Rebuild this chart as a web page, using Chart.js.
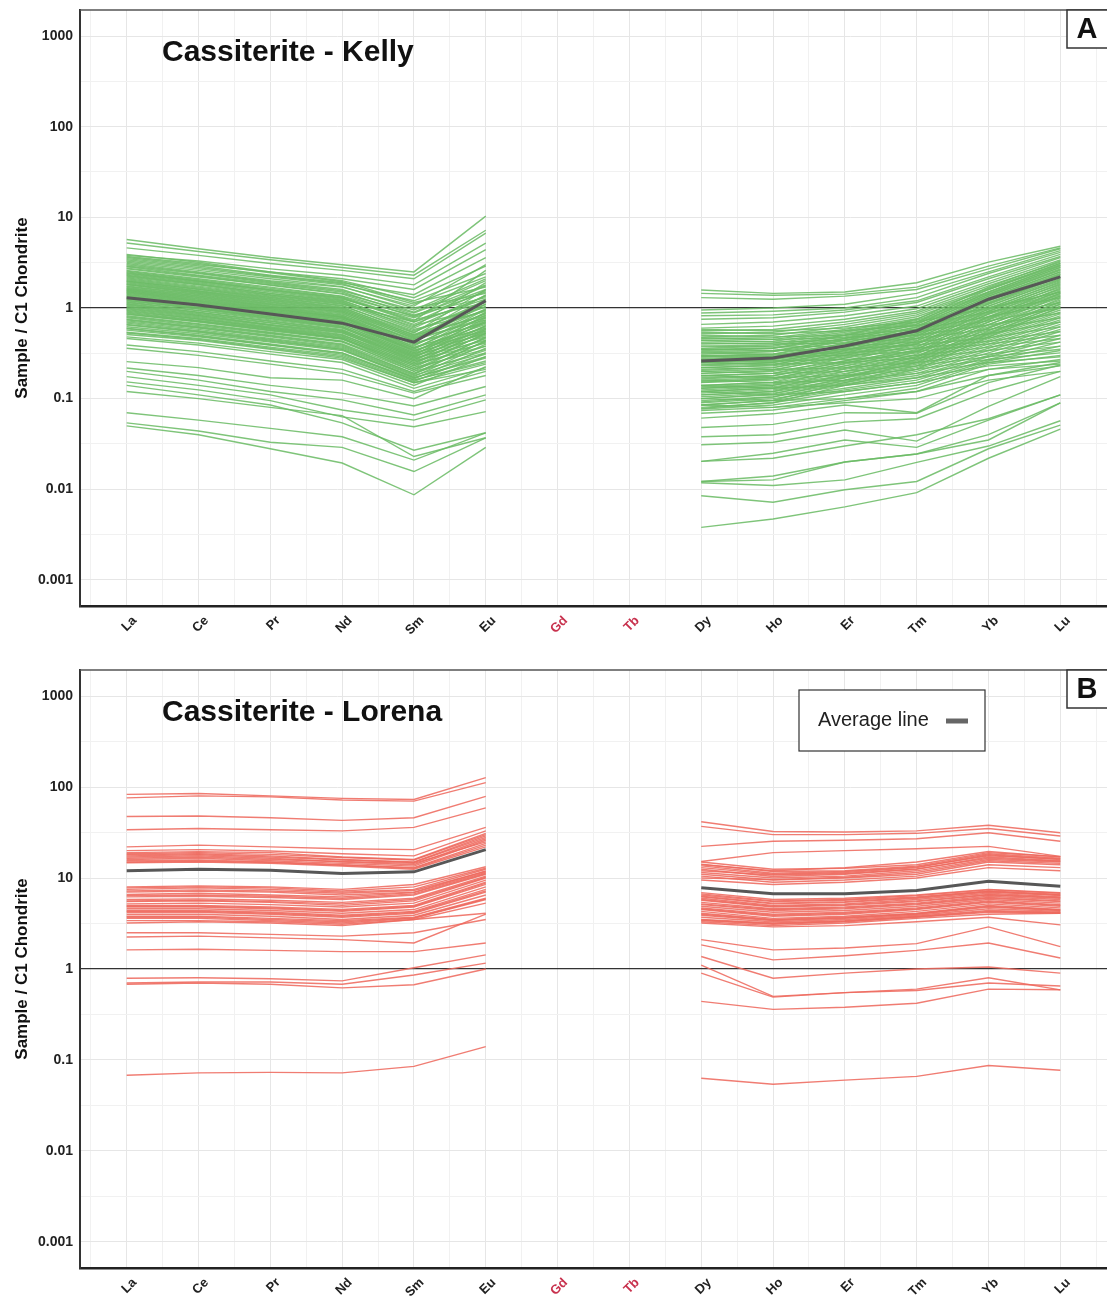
<!DOCTYPE html>
<html>
<head>
<meta charset="utf-8">
<script src="https://cdn.jsdelivr.net/npm/chart.js@4.4.1/dist/chart.umd.min.js"></script>
<style>
  html, body { margin: 0; padding: 0; background: #fff; }
  canvas { display: block; }
</style>
</head>
<body>
<canvas id="kelly-chart" width="1107" height="655"></canvas>
<canvas id="lorena-chart" width="1107" height="644"></canvas>
<script>
// REE order on the x axis (Gd, Tb not analysed -> gap, red labels)
const elements = ['La', 'Ce', 'Pr', 'Nd', 'Sm', 'Eu', 'Gd', 'Tb', 'Dy', 'Ho', 'Er', 'Tm', 'Yb', 'Lu'];
const missingElements = ['Gd', 'Tb'];
const yTickValues = [0.001, 0.01, 0.1, 1, 10, 100, 1000];
const yTickLabels = ['0.001', '0.01', '0.1', '1', '10', '100', '1000'];

// each row: La, Ce, Pr, Nd, Sm, Eu, Dy, Ho, Er, Tm, Yb, Lu (sample / C1 chondrite)
const kellyAverage = [1.3, 1.08, 0.86, 0.68, 0.42, 1.2, 0.26, 0.28, 0.38, 0.56, 1.25, 2.2];
const kellySamples = [
    [5.7, 4.5, 3.6, 3.0, 2.5, 10.3, 1.58, 1.45, 1.5, 1.9, 3.2, 4.8],
    [5.2, 4.2, 3.4, 2.8, 2.3, 7.2, 1.45, 1.38, 1.42, 1.7, 2.9, 4.6],
    [4.6, 3.8, 3.1, 2.6, 2.1, 6.7, 1.3, 1.25, 1.35, 1.6, 2.7, 4.5],
    [3.9, 3.2, 2.5, 2.0, 1.3, 2.9, 0.34, 0.36, 0.5, 0.75, 1.7, 3.3],
    [3.8, 3.3, 2.7, 2.3, 1.8, 5.2, 0.95, 1.0, 1.1, 1.45, 2.5, 4.3],
    [3.7, 3.1, 2.45, 1.95, 1.15, 1.7, 0.31, 0.33, 0.46, 0.7, 1.6, 3.1],
    [3.6, 3.0, 2.5, 2.1, 1.6, 4.4, 0.88, 0.92, 1.0, 1.3, 2.4, 4.1],
    [3.5, 2.9, 2.3, 1.9, 1.4, 3.6, 0.82, 0.84, 0.95, 1.2, 2.2, 3.9],
    [3.4, 2.8, 2.25, 1.85, 1.1, 2.2, 0.29, 0.31, 0.44, 0.66, 1.5, 2.95],
    [3.3, 2.7, 2.2, 1.8, 1.2, 2.4, 0.75, 0.78, 0.9, 1.15, 2.1, 3.7],
    [3.2, 2.6, 2.1, 1.72, 1.0, 1.45, 0.27, 0.29, 0.41, 0.62, 1.42, 2.8],
    [3.1, 2.5, 2.0, 1.7, 1.05, 3.0, 0.66, 0.7, 0.82, 1.05, 1.95, 3.6],
    [3.0, 2.45, 1.95, 1.6, 0.9, 2.0, 0.25, 0.27, 0.39, 0.58, 1.35, 2.65],
    [2.9, 2.4, 1.9, 1.55, 0.95, 2.1, 0.6, 0.63, 0.75, 0.98, 1.85, 3.4],
    [2.85, 2.3, 1.85, 1.5, 0.84, 1.3, 0.235, 0.25, 0.36, 0.55, 1.28, 2.5],
    [2.75, 2.25, 1.78, 1.42, 0.8, 1.75, 0.22, 0.235, 0.34, 0.52, 1.2, 2.35],
    [2.7, 2.2, 1.8, 1.45, 0.88, 1.8, 0.56, 0.58, 0.7, 0.92, 1.75, 3.2],
    [2.6, 2.1, 1.7, 1.35, 0.82, 1.6, 0.52, 0.54, 0.66, 0.88, 1.65, 3.1],
    [2.55, 2.05, 1.65, 1.33, 0.74, 1.15, 0.205, 0.22, 0.32, 0.49, 1.12, 2.2],
    [2.5, 2.0, 1.6, 1.3, 0.72, 2.6, 0.48, 0.5, 0.62, 0.84, 1.6, 3.0],
    [2.45, 1.98, 1.58, 1.28, 0.7, 1.55, 0.19, 0.205, 0.3, 0.46, 1.05, 2.05],
    [2.4, 1.95, 1.55, 1.25, 0.78, 1.5, 0.46, 0.47, 0.58, 0.8, 1.5, 2.9],
    [2.35, 1.9, 1.5, 1.22, 0.64, 1.02, 0.178, 0.19, 0.28, 0.43, 0.98, 1.95],
    [2.3, 1.85, 1.45, 1.2, 0.66, 1.35, 0.44, 0.45, 0.56, 0.76, 1.45, 2.8],
    [2.25, 1.82, 1.44, 1.17, 0.6, 1.38, 0.165, 0.178, 0.26, 0.4, 0.92, 1.85],
    [2.2, 1.8, 1.4, 1.15, 0.62, 1.9, 0.42, 0.43, 0.54, 0.73, 1.4, 2.7],
    [2.15, 1.74, 1.38, 1.12, 0.58, 0.92, 0.152, 0.165, 0.245, 0.37, 0.86, 1.75],
    [2.1, 1.7, 1.35, 1.1, 0.7, 1.25, 0.4, 0.41, 0.52, 0.7, 1.35, 2.6],
    [2.05, 1.66, 1.32, 1.07, 0.54, 1.2, 0.14, 0.152, 0.23, 0.35, 0.8, 1.65],
    [2.0, 1.62, 1.3, 1.05, 0.56, 1.1, 0.38, 0.39, 0.5, 0.67, 1.3, 2.5],
    [1.98, 1.6, 1.27, 1.02, 0.5, 0.82, 0.13, 0.14, 0.215, 0.33, 0.75, 1.55],
    [1.95, 1.55, 1.25, 1.0, 0.53, 1.6, 0.36, 0.38, 0.48, 0.64, 1.25, 2.4],
    [1.9, 1.53, 1.22, 0.98, 0.48, 1.05, 0.12, 0.13, 0.2, 0.31, 0.7, 1.45],
    [1.85, 1.5, 1.2, 0.96, 0.51, 0.95, 0.35, 0.36, 0.46, 0.61, 1.2, 2.3],
    [1.82, 1.47, 1.17, 0.94, 0.46, 0.74, 0.11, 0.12, 0.185, 0.29, 0.65, 1.36],
    [1.8, 1.45, 1.15, 0.93, 0.49, 1.4, 0.33, 0.34, 0.44, 0.59, 1.15, 2.2],
    [1.75, 1.42, 1.12, 0.91, 0.43, 0.98, 0.1, 0.112, 0.17, 0.27, 0.6, 1.27],
    [1.72, 1.4, 1.1, 0.9, 0.47, 0.86, 0.32, 0.33, 0.42, 0.56, 1.1, 2.1],
    [1.68, 1.37, 1.08, 0.88, 0.41, 0.68, 0.092, 0.104, 0.16, 0.25, 0.56, 1.18],
    [1.65, 1.35, 1.05, 0.86, 0.45, 1.25, 0.3, 0.31, 0.4, 0.54, 1.05, 2.0],
    [1.62, 1.32, 1.04, 0.84, 0.39, 0.88, 0.085, 0.096, 0.15, 0.23, 0.52, 1.1],
    [1.6, 1.3, 1.02, 0.83, 0.44, 0.78, 0.29, 0.3, 0.38, 0.52, 1.0, 1.9],
    [1.57, 1.27, 1.0, 0.81, 0.37, 0.6, 0.078, 0.09, 0.14, 0.21, 0.48, 1.02],
    [1.55, 1.25, 0.98, 0.8, 0.42, 1.1, 0.28, 0.29, 0.37, 0.5, 0.96, 1.8],
    [1.52, 1.22, 0.97, 0.79, 0.36, 0.8, 0.58, 0.56, 0.6, 0.7, 1.0, 1.5],
    [1.5, 1.2, 0.95, 0.78, 0.4, 0.7, 0.27, 0.28, 0.35, 0.48, 0.92, 1.7],
    [1.47, 1.18, 0.94, 0.76, 0.34, 0.56, 0.54, 0.52, 0.56, 0.64, 0.9, 1.3],
    [1.45, 1.16, 0.92, 0.75, 0.38, 0.96, 0.26, 0.27, 0.34, 0.46, 0.88, 1.6],
    [1.42, 1.14, 0.91, 0.73, 0.33, 0.74, 0.5, 0.48, 0.5, 0.58, 0.8, 1.15],
    [1.4, 1.12, 0.9, 0.72, 0.36, 0.66, 0.25, 0.26, 0.33, 0.44, 0.85, 1.5],
    [1.37, 1.1, 0.88, 0.71, 0.32, 0.52, 0.47, 0.45, 0.47, 0.54, 0.72, 1.0],
    [1.35, 1.08, 0.86, 0.7, 0.35, 0.9, 0.24, 0.25, 0.32, 0.42, 0.8, 1.45],
    [1.32, 1.06, 0.85, 0.69, 0.31, 0.69, 0.44, 0.42, 0.44, 0.5, 0.65, 0.88],
    [1.3, 1.05, 0.84, 0.68, 0.34, 0.62, 0.23, 0.24, 0.31, 0.41, 0.77, 1.4],
    [1.27, 1.02, 0.82, 0.66, 0.3, 0.48, 0.41, 0.4, 0.41, 0.46, 0.58, 0.78],
    [1.25, 1.0, 0.8, 0.65, 0.32, 0.84, 0.22, 0.23, 0.3, 0.4, 0.74, 1.35],
    [1.22, 0.98, 0.79, 0.63, 0.29, 0.64, 0.38, 0.37, 0.38, 0.42, 0.52, 0.7],
    [1.2, 0.97, 0.77, 0.62, 0.31, 0.58, 0.21, 0.22, 0.29, 0.38, 0.7, 1.3],
    [1.17, 0.94, 0.76, 0.61, 0.28, 0.44, 0.35, 0.34, 0.35, 0.39, 0.47, 0.62],
    [1.15, 0.93, 0.74, 0.6, 0.3, 0.78, 0.2, 0.21, 0.28, 0.36, 0.66, 1.22],
    [1.12, 0.9, 0.72, 0.58, 0.27, 0.6, 0.32, 0.31, 0.32, 0.36, 0.43, 0.55],
    [1.1, 0.89, 0.71, 0.57, 0.29, 0.54, 0.19, 0.2, 0.26, 0.34, 0.62, 1.15],
    [1.08, 0.87, 0.69, 0.56, 0.26, 0.41, 0.3, 0.29, 0.3, 0.33, 0.4, 0.5],
    [1.05, 0.85, 0.68, 0.55, 0.28, 0.72, 0.18, 0.19, 0.25, 0.33, 0.6, 1.1],
    [1.03, 0.83, 0.66, 0.54, 0.25, 0.56, 0.27, 0.26, 0.27, 0.3, 0.37, 0.46],
    [1.0, 0.82, 0.65, 0.53, 0.27, 0.5, 0.17, 0.18, 0.24, 0.32, 0.57, 1.05],
    [0.98, 0.8, 0.64, 0.51, 0.24, 0.38, 0.25, 0.24, 0.25, 0.28, 0.34, 0.42],
    [0.96, 0.78, 0.62, 0.5, 0.26, 0.64, 0.16, 0.17, 0.23, 0.3, 0.54, 1.0],
    [0.94, 0.76, 0.61, 0.49, 0.23, 0.52, 0.22, 0.21, 0.22, 0.25, 0.31, 0.38],
    [0.92, 0.75, 0.6, 0.48, 0.25, 0.46, 0.155, 0.165, 0.22, 0.29, 0.52, 0.95],
    [0.9, 0.73, 0.59, 0.47, 0.22, 0.35, 0.2, 0.19, 0.2, 0.23, 0.29, 0.35],
    [0.88, 0.72, 0.58, 0.46, 0.24, 0.58, 0.15, 0.16, 0.21, 0.28, 0.5, 0.9],
    [0.86, 0.71, 0.57, 0.46, 0.21, 0.47, 0.18, 0.17, 0.18, 0.21, 0.27, 0.32],
    [0.85, 0.7, 0.56, 0.45, 0.23, 0.42, 0.14, 0.15, 0.2, 0.27, 0.48, 0.86],
    [0.82, 0.67, 0.54, 0.43, 0.22, 0.53, 0.135, 0.145, 0.19, 0.26, 0.46, 0.82],
    [0.8, 0.66, 0.53, 0.43, 0.2, 0.32, 0.16, 0.15, 0.16, 0.19, 0.25, 0.29],
    [0.78, 0.64, 0.52, 0.42, 0.21, 0.38, 0.13, 0.14, 0.18, 0.25, 0.44, 0.78],
    [0.75, 0.62, 0.5, 0.4, 0.2, 0.48, 0.125, 0.135, 0.175, 0.24, 0.42, 0.74],
    [0.74, 0.61, 0.49, 0.39, 0.19, 0.43, 0.14, 0.13, 0.14, 0.17, 0.23, 0.26],
    [0.72, 0.6, 0.48, 0.38, 0.19, 0.34, 0.12, 0.13, 0.17, 0.23, 0.4, 0.7],
    [0.7, 0.58, 0.46, 0.37, 0.185, 0.44, 0.115, 0.125, 0.16, 0.22, 0.38, 0.66],
    [0.68, 0.56, 0.45, 0.36, 0.18, 0.31, 0.11, 0.12, 0.155, 0.21, 0.36, 0.62],
    [0.66, 0.55, 0.44, 0.35, 0.17, 0.29, 0.12, 0.11, 0.12, 0.15, 0.21, 0.24],
    [0.65, 0.54, 0.43, 0.35, 0.175, 0.4, 0.105, 0.115, 0.15, 0.2, 0.34, 0.58],
    [0.62, 0.52, 0.42, 0.34, 0.17, 0.28, 0.1, 0.11, 0.145, 0.19, 0.32, 0.55],
    [0.6, 0.5, 0.4, 0.32, 0.165, 0.36, 0.095, 0.105, 0.14, 0.18, 0.3, 0.5],
    [0.59, 0.49, 0.39, 0.32, 0.16, 0.25, 0.1, 0.095, 0.1, 0.12, 0.18, 0.23],
    [0.57, 0.48, 0.39, 0.31, 0.16, 0.26, 0.09, 0.1, 0.13, 0.17, 0.29, 0.46],
    [0.54, 0.46, 0.37, 0.3, 0.155, 0.32, 0.085, 0.095, 0.125, 0.16, 0.27, 0.42],
    [0.53, 0.45, 0.36, 0.29, 0.15, 0.21, 0.085, 0.08, 0.09, 0.1, 0.16, 0.2],
    [0.51, 0.44, 0.35, 0.28, 0.15, 0.24, 0.08, 0.09, 0.12, 0.15, 0.26, 0.38],
    [0.48, 0.41, 0.33, 0.27, 0.14, 0.29, 0.077, 0.085, 0.11, 0.14, 0.25, 0.34],
    [0.46, 0.39, 0.31, 0.25, 0.13, 0.22, 0.074, 0.08, 0.1, 0.13, 0.24, 0.3],
    [0.39, 0.33, 0.26, 0.21, 0.12, 0.2, 0.069, 0.075, 0.095, 0.12, 0.21, 0.27],
    [0.36, 0.3, 0.24, 0.19, 0.115, 0.18, 0.061, 0.068, 0.085, 0.07, 0.18, 0.25],
    [0.256, 0.22, 0.17, 0.16, 0.1, 0.226, 0.048, 0.052, 0.07, 0.069, 0.15, 0.235],
    [0.218, 0.18, 0.14, 0.115, 0.083, 0.136, 0.038, 0.04, 0.055, 0.06, 0.12, 0.2],
    [0.2, 0.16, 0.12, 0.097, 0.066, 0.11, 0.031, 0.033, 0.045, 0.034, 0.082, 0.175],
    [0.175, 0.14, 0.11, 0.075, 0.058, 0.097, 0.0203, 0.025, 0.035, 0.029, 0.058, 0.11],
    [0.153, 0.125, 0.095, 0.063, 0.049, 0.072, 0.0122, 0.0127, 0.02, 0.0245, 0.035, 0.09],
    [0.14, 0.11, 0.085, 0.054, 0.027, 0.042, 0.0118, 0.011, 0.0127, 0.0198, 0.03, 0.057],
    [0.12, 0.1, 0.08, 0.065, 0.023, 0.037, 0.0085, 0.0072, 0.0099, 0.0122, 0.028, 0.051],
    [0.07, 0.058, 0.047, 0.038, 0.021, 0.042, 0.0038, 0.0047, 0.0064, 0.0092, 0.022, 0.046],
    [0.054, 0.044, 0.033, 0.029, 0.0157, 0.037, 0.0122, 0.014, 0.02, 0.0245, 0.04, 0.09],
    [0.05, 0.04, 0.028, 0.0195, 0.0087, 0.029, 0.0203, 0.022, 0.03, 0.04, 0.06, 0.11]
];

const lorenaAverage = [12, 12.5, 12.2, 11.2, 11.7, 20.5, 7.8, 6.7, 6.7, 7.3, 9.2, 8.1];
const lorenaSamples = [
    [83, 85, 80, 75, 73, 127, 41.6, 32.5, 32, 33, 38, 31.5],
    [76, 80, 78, 72, 70, 112, 37, 30, 30, 31, 35, 29],
    [47.5, 48, 46, 43, 46, 79, 22.3, 25.4, 26, 27, 31.5, 25.4],
    [34, 35, 34, 33, 36, 59, 15.2, 19, 20, 21, 22.3, 17.3],
    [22, 23, 22, 21, 20.5, 36, 14, 12, 13, 15, 19.6, 17],
    [20, 20.5, 19.8, 18.5, 17.5, 33, 15, 12.5, 12.8, 14, 19, 17.2],
    [19, 19.5, 19, 17, 16, 31, 13, 11, 11.5, 13, 18, 16],
    [18.5, 19, 18.2, 16.8, 15.8, 30, 14.2, 11.8, 12, 13.5, 18.5, 16.5],
    [18, 18.5, 17.5, 16, 15, 29, 12.5, 10.4, 11, 12.5, 17, 15.5],
    [17.5, 18, 17, 15.8, 14.8, 28, 13.6, 11.3, 11.8, 13.2, 17.6, 16.2],
    [17, 17.5, 16.5, 15, 14, 27, 11.5, 10, 10.5, 12, 16, 15],
    [16.5, 17, 16, 15.2, 14.5, 25, 12, 10.8, 11.2, 12.6, 16.5, 15.3],
    [16, 16.5, 15.5, 14.5, 13.5, 26, 11, 9.5, 10, 11, 15, 14],
    [15.5, 15.8, 15, 14, 13, 24, 10.5, 9, 9.5, 10.5, 14, 13],
    [15, 15.3, 14.8, 13.8, 12.8, 23, 10, 9.6, 10.2, 11.5, 15.5, 14.5],
    [14.7, 15, 14.5, 13.5, 12.5, 22, 9.5, 8.5, 9, 10, 13, 12],
    [8, 8.2, 8, 7.5, 8.5, 13.3, 6.9, 5.8, 6, 6.5, 7.5, 6.9],
    [7.8, 8, 7.8, 7.2, 8, 12.8, 6.7, 5.6, 5.8, 6.4, 7.4, 6.8],
    [7.5, 7.8, 7.5, 7, 7.5, 12.5, 6.5, 5.5, 5.7, 6.2, 7.2, 6.6],
    [7.2, 7.4, 7.2, 6.8, 7.3, 11.8, 6.3, 5.3, 5.5, 6.1, 7.1, 6.5],
    [7, 7.2, 7, 6.5, 7, 12, 6.2, 5.2, 5.4, 6, 7, 6.4],
    [6.6, 6.8, 6.5, 6.2, 6.9, 11.5, 6, 5, 5.2, 5.8, 6.8, 6.2],
    [6.4, 6.5, 6.3, 6, 6.7, 11.2, 5.8, 4.9, 5.1, 5.6, 6.6, 6.1],
    [6.2, 6.3, 6.1, 5.8, 6.5, 11, 5.7, 4.8, 5, 5.5, 6.5, 6],
    [5.8, 5.9, 5.7, 5.4, 6, 10.5, 5.4, 4.6, 4.8, 5.3, 6.3, 5.8],
    [5.6, 5.7, 5.5, 5.2, 5.8, 10.2, 5.2, 4.5, 4.7, 5.2, 6.1, 5.6],
    [5.5, 5.6, 5.4, 5, 5.6, 10, 5.1, 4.4, 4.6, 5.1, 6, 5.5],
    [5.2, 5.3, 5.1, 4.8, 5.3, 9.5, 4.9, 4.2, 4.4, 4.9, 5.8, 5.3],
    [5, 5, 4.8, 4.5, 5, 9, 4.7, 4, 4.2, 4.7, 5.6, 5.1],
    [4.9, 4.9, 4.7, 4.4, 4.9, 8.8, 4.6, 3.9, 4.1, 4.6, 5.5, 5],
    [4.8, 4.8, 4.6, 4.3, 4.8, 8.5, 4.5, 3.8, 4, 4.5, 5.4, 4.9],
    [4.6, 4.6, 4.4, 4.1, 4.5, 8, 4.3, 3.6, 3.8, 4.3, 5.2, 4.7],
    [4.4, 4.4, 4.2, 3.9, 4.3, 7.5, 4.1, 3.5, 3.7, 4.1, 5, 4.5],
    [4.3, 4.3, 4.1, 3.8, 4.2, 7.2, 4, 3.45, 3.65, 4.05, 4.9, 4.45],
    [4.2, 4.2, 4, 3.7, 4.1, 7, 3.9, 3.4, 3.6, 4, 4.8, 4.4],
    [4, 4, 3.8, 3.5, 3.9, 6.5, 3.7, 3.3, 3.5, 3.9, 4.6, 4.3],
    [3.8, 3.8, 3.6, 3.4, 3.7, 6, 3.5, 3.2, 3.4, 3.8, 4.4, 4.2],
    [3.7, 3.7, 3.5, 3.3, 3.65, 5.9, 3.45, 3.15, 3.35, 3.75, 4.3, 4.15],
    [3.6, 3.6, 3.4, 3.2, 3.6, 5.8, 3.4, 3.1, 3.3, 3.7, 4.2, 4.1],
    [3.4, 3.4, 3.3, 3.1, 3.5, 5.3, 3.3, 3, 3.2, 3.6, 4, 4.1],
    [3.2, 3.3, 3.2, 3, 3.5, 4.1, 3.2, 2.9, 3, 3.3, 3.7, 3.05],
    [2.5, 2.5, 2.4, 2.3, 2.5, 3.5, 2.1, 1.62, 1.7, 1.9, 2.9, 1.76],
    [2.25, 2.3, 2.2, 2.1, 1.93, 4.0, 1.84, 1.26, 1.4, 1.6, 1.93, 1.32],
    [1.62, 1.65, 1.6, 1.55, 1.55, 1.93, 1.37, 0.79, 0.9, 1.0, 1.05, 0.9],
    [0.79, 0.8, 0.78, 0.74, 1.03, 1.43, 1.1, 0.5, 0.55, 0.6, 0.8, 0.59],
    [0.7, 0.72, 0.72, 0.68, 0.86, 1.16, 0.9, 0.49, 0.55, 0.58, 0.7, 0.65],
    [0.68, 0.7, 0.68, 0.62, 0.67, 1.0, 0.44, 0.36, 0.38, 0.42, 0.6, 0.59],
    [0.068, 0.072, 0.073, 0.072, 0.085, 0.14, 0.063, 0.054, 0.06, 0.066, 0.087, 0.077]
];

// Gd and Tb were not measured: insert a gap between Eu and Dy
function toSeries(row) {
    return elements.map((el, i) => {
        if (i < 6) return { x: i, y: row[i] };
        if (i < 8) return { x: i, y: null };
        return { x: i, y: row[i - 2] };
    });
}

// frame top line, panel title, panel letter and the little legend
const panelDecor = {
    id: 'panelDecor',
    afterDraw(chart, args, opts) {
        const ctx = chart.ctx;
        const area = chart.chartArea;
        ctx.save();
        ctx.strokeStyle = '#555';
        ctx.lineWidth = 1.5;
        ctx.beginPath();
        ctx.moveTo(area.left, area.top);
        ctx.lineTo(area.right, area.top);
        ctx.stroke();

        ctx.fillStyle = '#111';
        ctx.textBaseline = 'middle';
        ctx.textAlign = 'left';
        ctx.font = 'bold 30px "Liberation Sans", Arial, sans-serif';
        ctx.fillText(opts.title, area.left + 82, area.top + 43);

        // letter box in the top right corner
        ctx.fillStyle = '#fff';
        ctx.fillRect(area.right - 40, area.top, 40, 38);
        ctx.strokeStyle = '#333';
        ctx.lineWidth = 1.5;
        ctx.strokeRect(area.right - 40, area.top, 42, 38);
        ctx.fillStyle = '#111';
        ctx.textAlign = 'center';
        ctx.font = 'bold 29px "Liberation Sans", Arial, sans-serif';
        ctx.fillText(opts.letter, area.right - 20, area.top + 20);

        if (opts.legend) {
            const bx = 799, by = area.top + 20;
            ctx.fillStyle = '#fff';
            ctx.fillRect(bx, by, 186, 61);
            ctx.strokeStyle = '#333';
            ctx.lineWidth = 1.2;
            ctx.strokeRect(bx, by, 186, 61);
            ctx.fillStyle = '#222';
            ctx.textAlign = 'left';
            ctx.font = '20px "Liberation Sans", Arial, sans-serif';
            ctx.fillText('Average line', bx + 19, by + 30);
            ctx.strokeStyle = '#666';
            ctx.lineWidth = 5;
            ctx.beginPath();
            ctx.moveTo(bx + 147, by + 31);
            ctx.lineTo(bx + 169, by + 31);
            ctx.stroke();
        }
        ctx.restore();
    }
};

// drop the extra space Chart.js keeps for edge tick labels
function noEdgePadding(scale) {
    scale.paddingTop = 0;
    scale.paddingBottom = 0;
    scale.paddingLeft = 0;
    scale.paddingRight = 0;
}

function buildChart(canvasId, samples, average, lineColor, opts) {
    const datasets = [{
        label: 'Average line',
        data: toSeries(average),
        borderColor: '#575757',
        borderWidth: 3,
        pointRadius: 0,
        spanGaps: false
    }];
    samples.forEach((row, n) => {
        datasets.push({
            label: 'Sample ' + (n + 1),
            data: toSeries(row),
            borderColor: lineColor,
            borderWidth: 1.4,
            pointRadius: 0,
            spanGaps: false
        });
    });

    return new Chart(document.getElementById(canvasId), {
        type: 'line',
        data: { datasets: datasets },
        plugins: [panelDecor],
        options: {
            responsive: false,
            animation: false,
            events: [],
            layout: { padding: { top: opts.padTop, right: 0, left: 0, bottom: 0 } },
            plugins: {
                legend: { display: false },
                tooltip: { enabled: false },
                panelDecor: { title: opts.title, letter: opts.letter, legend: opts.legend }
            },
            scales: {
                x: {
                    type: 'linear',
                    min: -0.65,
                    max: elements.length - 1 + 0.65,
                    afterBuildTicks: scale => {
                        const t = [];
                        for (let i = -1; i < elements.length; i++) {
                            if (i >= 0) t.push({ value: i });
                            t.push({ value: i + 0.5 });
                        }
                        scale.ticks = t;
                    },
                    afterFit: scale => { noEdgePadding(scale); scale.height = opts.xHeight; },
                    grid: {
                        drawTicks: false,
                        color: c => Number.isInteger(c.tick.value) ? '#e6e6e6' : '#f1f1f1',
                        lineWidth: 1
                    },
                    border: { display: true, color: '#222', width: 2.5 },
                    ticks: {
                        autoSkip: false,
                        minRotation: 45,
                        maxRotation: 45,
                        padding: 7,
                        labelOffset: 8,
                        font: { family: '"Liberation Sans", Arial, sans-serif', size: 13, weight: 'bold' },
                        color: c => missingElements.includes(c.tick.label) ? '#c8324e' : '#222',
                        callback: v => Number.isInteger(v) ? elements[v] : ''
                    }
                },
                y: {
                    type: 'logarithmic',
                    min: 0.000516,
                    max: 1936,
                    afterBuildTicks: scale => {
                        const t = [];
                        yTickValues.forEach((v, i) => {
                            t.push({ value: v });
                            if (i < yTickValues.length - 1) t.push({ value: v * Math.sqrt(10) });
                        });
                        scale.ticks = t;
                    },
                    afterFit: scale => { noEdgePadding(scale); scale.width = 80; },
                    grid: {
                        drawTicks: false,
                        color: c => {
                            const v = c.tick.value;
                            if (v === 1) return '#333';
                            return yTickValues.includes(v) ? '#e6e6e6' : '#f1f1f1';
                        },
                        lineWidth: c => c.tick.value === 1 ? 1.3 : 1
                    },
                    border: { display: true, color: '#333', width: 2 },
                    title: {
                        display: true,
                        text: 'Sample / C1 Chondrite',
                        color: '#111',
                        padding: { top: 12, bottom: 0 },
                        font: { family: '"Liberation Sans", Arial, sans-serif', size: 17, weight: 'bold' }
                    },
                    ticks: {
                        padding: 7,
                        color: '#222',
                        font: { family: '"Liberation Sans", Arial, sans-serif', size: 14, weight: 'bold' },
                        callback: v => {
                            const i = yTickValues.indexOf(v);
                            return i >= 0 ? yTickLabels[i] : '';
                        }
                    }
                }
            }
        }
    });
}

buildChart('kelly-chart', kellySamples, kellyAverage, 'rgba(108,188,102,0.88)',
    { title: 'Cassiterite - Kelly', letter: 'A', legend: false, padTop: 10, xHeight: 49 });
buildChart('lorena-chart', lorenaSamples, lorenaAverage, 'rgba(238,106,94,0.88)',
    { title: 'Cassiterite - Lorena', letter: 'B', legend: true, padTop: 15, xHeight: 31 });
</script>
</body>
</html>
